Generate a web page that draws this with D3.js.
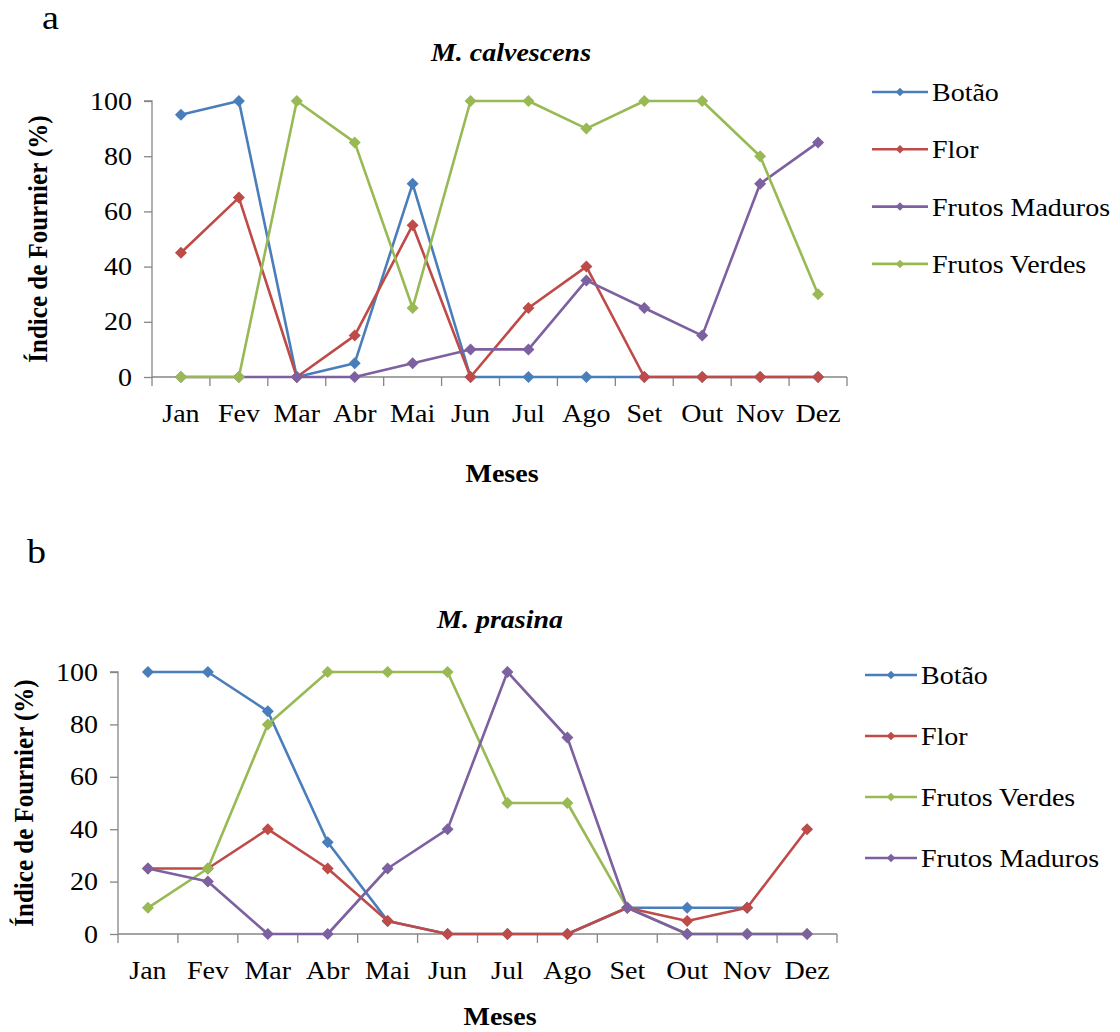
<!DOCTYPE html>
<html>
<head>
<meta charset="utf-8">
<script src="https://cdn.jsdelivr.net/npm/d3@7"></script>
<style>
  html, body { margin: 0; padding: 0; background: #fff; }
  svg { display: block; }
  svg text { font-family: "Liberation Serif", "Times New Roman", "DejaVu Serif", serif; fill: #000; }
</style>
</head>
<body>
<svg id="chart" width="1120" height="1032"></svg>
<script>
// ---------- Data ----------
const months = ["Jan", "Fev", "Mar", "Abr", "Mai", "Jun", "Jul", "Ago", "Set", "Out", "Nov", "Dez"];
const yTicks = [0, 20, 40, 60, 80, 100];

// Panel a: M. calvescens
const titleA = "M. calvescens";
const namesA = ["Botão", "Flor", "Frutos Maduros", "Frutos Verdes"];
const botaoA   = [95, 100, 0, 5, 70, 0, 0, 0, 0, 0, 0, 0];
const florA    = [45, 65, 0, 15, 55, 0, 25, 40, 0, 0, 0, 0];
const madurosA = [0, 0, 0, 0, 5, 10, 10, 35, 25, 15, 70, 85];
const verdesA  = [0, 0, 100, 85, 25, 100, 100, 90, 100, 100, 80, 30];

// Panel b: M. prasina
const titleB = "M. prasina";
const namesB = ["Botão", "Flor", "Frutos Verdes", "Frutos Maduros"];
const botaoB   = [100, 100, 85, 35, 5, 0, 0, 0, 10, 10, 10, null];
const florB    = [25, 25, 40, 25, 5, 0, 0, 0, 10, 5, 10, 40];
const verdesB  = [10, 25, 80, 100, 100, 100, 50, 50, 10, 0, 0, 0];
const madurosB = [25, 20, 0, 0, 25, 40, 100, 75, 10, 0, 0, 0];

const colorOf = {
  "Botão": "#4A7EBB",
  "Flor": "#BE4B48",
  "Frutos Maduros": "#7D60A0",
  "Frutos Verdes": "#98B954"
};

const FONT = '"Liberation Serif", "Times New Roman", serif';
const SX = 1.12; // horizontal stretch of the reference's text
const svg = d3.select("#chart");
const square = d3.symbol().type(d3.symbolSquare);

function addText(g, x, y, str, opts = {}) {
  const t = g.append("text")
    .attr("transform", `translate(${x},${y})${opts.rotate ? " rotate(-90)" : ""} scale(${opts.rotate ? "1," + SX : SX + ",1"})`)
    .attr("font-family", FONT)
    .attr("font-size", opts.size || 25)
    .attr("text-anchor", opts.anchor || "start")
    .text(str);
  if (opts.bold) t.attr("font-weight", "bold");
  if (opts.italic) t.attr("font-style", "italic");
  return t;
}

function drawPanel(cfg) {
  const g = svg.append("g");
  const x = d3.scaleBand().domain(months).range([cfg.left, cfg.right]).paddingInner(0).paddingOuter(0);
  const y = d3.scaleLinear().domain([0, 100]).range([cfg.bottom, cfg.top]);
  const cx = m => x(m) + x.bandwidth() / 2;

  addText(g, cfg.letterX, cfg.letterY, cfg.letter, { size: 34 });
  addText(g, cfg.titleX, cfg.titleY, cfg.title, { anchor: "middle", bold: true, italic: true });

  // y axis
  const yAxis = d3.axisLeft(y).tickValues(yTicks).tickSize(8).tickPadding(12);
  const ya = g.append("g").attr("transform", `translate(${cfg.left},0)`).call(yAxis);
  ya.attr("font-family", FONT);
  ya.selectAll("path, line").attr("stroke", "#868686").attr("stroke-width", 1.3);
  ya.selectAll("text").attr("font-size", 25).attr("font-family", FONT).attr("fill", "#000")
    .attr("x", -20 / SX).attr("transform", `scale(${SX},1)`);
  ya.select(".domain").attr("d", `M-8,${cfg.top}H0V${cfg.bottom}`);

  // x axis labels
  const xAxis = d3.axisBottom(x).tickSize(0).tickPadding(45);
  const xa = g.append("g").attr("transform", `translate(0,${cfg.bottom})`).call(xAxis);
  xa.attr("font-family", FONT);
  xa.select(".domain").remove();
  xa.selectAll("text").attr("font-size", 25).attr("font-family", FONT).attr("fill", "#000")
    .attr("dy", "0").attr("transform", `scale(${SX},1)`);
  // x axis line and boundary ticks
  g.append("line").attr("x1", cfg.left).attr("x2", cfg.right)
    .attr("y1", cfg.bottom).attr("y2", cfg.bottom)
    .attr("stroke", "#868686").attr("stroke-width", 1.3);
  const bounds = months.map(m => x(m)).concat([cfg.right]);
  g.selectAll(".xtick").data(bounds).join("line")
    .attr("x1", d => d).attr("x2", d => d)
    .attr("y1", cfg.bottom).attr("y2", cfg.bottom + 9)
    .attr("stroke", "#868686").attr("stroke-width", 1.3);

  // axis titles
  addText(g, cfg.xTitleX, cfg.xTitleY, "Meses", { anchor: "middle", bold: true });
  addText(g, cfg.yTitleX, (cfg.top + cfg.bottom) / 2, "Índice de Fournier (%)",
    { anchor: "middle", bold: true, rotate: true });

  // series
  const line = d3.line()
    .defined(d => d.v !== null)
    .x(d => cx(d.m)).y(d => y(d.v));
  cfg.series.forEach(s => {
    const pts = months.map((m, i) => ({ m, v: s.values[i] }));
    const col = colorOf[s.name];
    g.append("path").datum(pts).attr("d", line)
      .attr("fill", "none").attr("stroke", col).attr("stroke-width", 2.6)
      .attr("stroke-linejoin", "round");
    g.selectAll(null).data(pts.filter(d => d.v !== null)).join("path")
      .attr("d", square.size(72))
      .attr("transform", d => `translate(${cx(d.m)},${y(d.v)}) rotate(45)`)
      .attr("fill", col);
  });

  // legend
  cfg.series.forEach((s, i) => {
    const ly = cfg.legendY + i * cfg.legendStep;
    const col = colorOf[s.name];
    g.append("line").attr("x1", cfg.legendX1).attr("x2", cfg.legendX2)
      .attr("y1", ly).attr("y2", ly).attr("stroke", col).attr("stroke-width", 2.6);
    g.append("path").attr("d", square.size(36))
      .attr("transform", `translate(${(cfg.legendX1 + cfg.legendX2) / 2},${ly}) rotate(45)`)
      .attr("fill", col);
    addText(g, cfg.legendX2 + 4, ly + 9, s.name, { size: 25 });
  });
}

drawPanel({
  letter: "a", letterX: 42, letterY: 29,
  title: titleA, titleX: 511, titleY: 61,
  left: 152, right: 847, top: 101, bottom: 377,
  xTitleX: 502, xTitleY: 482, yTitleX: 47,
  legendX1: 872, legendX2: 928, legendY: 92, legendStep: 57.3,
  series: [
    { name: namesA[0], values: botaoA },
    { name: namesA[1], values: florA },
    { name: namesA[2], values: madurosA },
    { name: namesA[3], values: verdesA }
  ]
});

drawPanel({
  letter: "b", letterX: 27, letterY: 563,
  title: titleB, titleX: 500, titleY: 628,
  left: 118, right: 837, top: 672, bottom: 934,
  xTitleX: 500, xTitleY: 1025, yTitleX: 33,
  legendX1: 865, legendX2: 917, legendY: 675, legendStep: 61,
  series: [
    { name: namesB[0], values: botaoB },
    { name: namesB[1], values: florB },
    { name: namesB[2], values: verdesB },
    { name: namesB[3], values: madurosB }
  ]
});
</script>
</body>
</html>
